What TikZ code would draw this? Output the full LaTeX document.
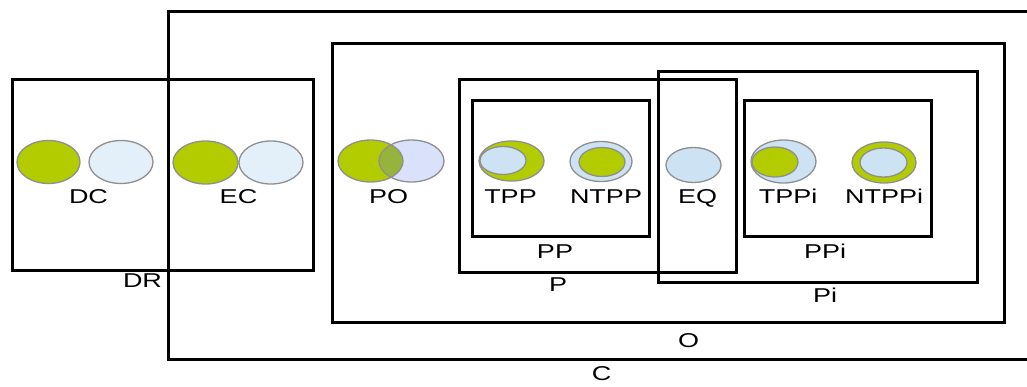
\documentclass[tikz,border=0pt]{standalone}
\usepackage{fontspec}
\setmainfont[FakeStretch=1.35]{Liberation Sans}
\definecolor{rgreen}{HTML}{B2CC00}
\definecolor{rlight}{HTML}{E3EFF9}
\definecolor{rblue}{HTML}{CDE3F3}
\definecolor{rlav}{HTML}{DAE2FB}
\definecolor{rover}{HTML}{96B43C}
\definecolor{redge}{HTML}{8F8F8F}
\tikzset{
  box/.style={draw=black, line width=3pt},
  blob/.style={draw=redge, line width=1.3pt},
  lbl/.style={anchor=base, inner sep=0pt, font=\fontsize{20}{24}\selectfont, text=black}
}
\begin{document}
\begin{tikzpicture}[x=1pt,y=-1pt]
\path[use as bounding box] (0,0) rectangle (1027,386);
\clip (0,0) rectangle (1027,386);
% boxes
\draw[box] (1040,11.5) -- (168,11.5) -- (168,359) -- (1040,359);
\draw[box] (12,79) rectangle (313,270);
\draw[box] (332,43) rectangle (1004,322);
\draw[box] (459,79) rectangle (736,272);
\draw[box] (472,100) rectangle (649,236);
\draw[box] (658,71) rectangle (977,282);
\draw[box] (744,100) rectangle (931,236);
% DC
\draw[blob, fill=rgreen] (48.5,162) ellipse [x radius=31.5, y radius=21.5];
\draw[blob, fill=rlight] (121,162) ellipse [x radius=32, y radius=21.5];
% EC
\draw[blob, fill=rgreen] (205.5,162.5) ellipse [x radius=32.5, y radius=21.5];
\draw[blob, fill=rlight] (271,162.5) ellipse [x radius=32, y radius=21.5];
% PO
\fill[rgreen] (370.5,161) ellipse [x radius=32.5, y radius=21];
\fill[rlav] (411.5,161) ellipse [x radius=32.5, y radius=21];
\begin{scope}
  \clip (370.5,161) ellipse [x radius=32.5, y radius=21];
  \fill[rover] (411.5,161) ellipse [x radius=32.5, y radius=21];
\end{scope}
\draw[blob] (370.5,161) ellipse [x radius=32.5, y radius=21];
\draw[blob] (411.5,161) ellipse [x radius=32.5, y radius=21];
% TPP
\draw[blob, fill=rgreen] (511.5,161) ellipse [x radius=32.5, y radius=20];
\draw[blob, fill=rblue] (503,160.5) ellipse [x radius=23, y radius=14];
% NTPP
\draw[blob, fill=rblue] (601,161.5) ellipse [x radius=31, y radius=20];
\draw[blob, fill=rgreen] (602,162) ellipse [x radius=23, y radius=14.5];
% EQ
\draw[blob, fill=rblue] (693.5,165) ellipse [x radius=27.5, y radius=17.5];
% TPPi
\draw[blob, fill=rblue] (783.5,161.5) ellipse [x radius=32.5, y radius=21.5];
\draw[blob, fill=rgreen] (775,162) ellipse [x radius=23, y radius=15];
% NTPPi
\draw[blob, fill=rgreen] (884,162.5) ellipse [x radius=32, y radius=20.5];
\draw[blob, fill=rblue] (883.5,162.5) ellipse [x radius=23.5, y radius=14.5];
% labels
\node[lbl] (tDC) at (88.5,203) {DC};
\node[lbl] (tEC) at (238.5,203) {EC};
\node[lbl] (tPO) at (388.5,203) {PO};
\node[lbl] (tTPP) at (510.5,203) {TPP};
\node[lbl] (tNTPP) at (606,203) {NTPP};
\node[lbl] (tEQ) at (697.5,203) {EQ};
\node[lbl] (tTPPi) at (788,203) {TPPi};
\node[lbl] (tNTPPi) at (884,203) {NTPPi};
\node[lbl] (tDR) at (142.5,287) {DR};
\node[lbl] (tPP) at (555,258) {PP};
\node[lbl] (tPPi) at (825,258) {PPi};
\node[lbl] (tP) at (558,291) {P};
\node[lbl] (tPi) at (825,302) {Pi};
\node[lbl] (tO) at (688.5,347) {O};
\node[lbl] (tC) at (601.5,380) {C};
\end{tikzpicture}
\end{document}
